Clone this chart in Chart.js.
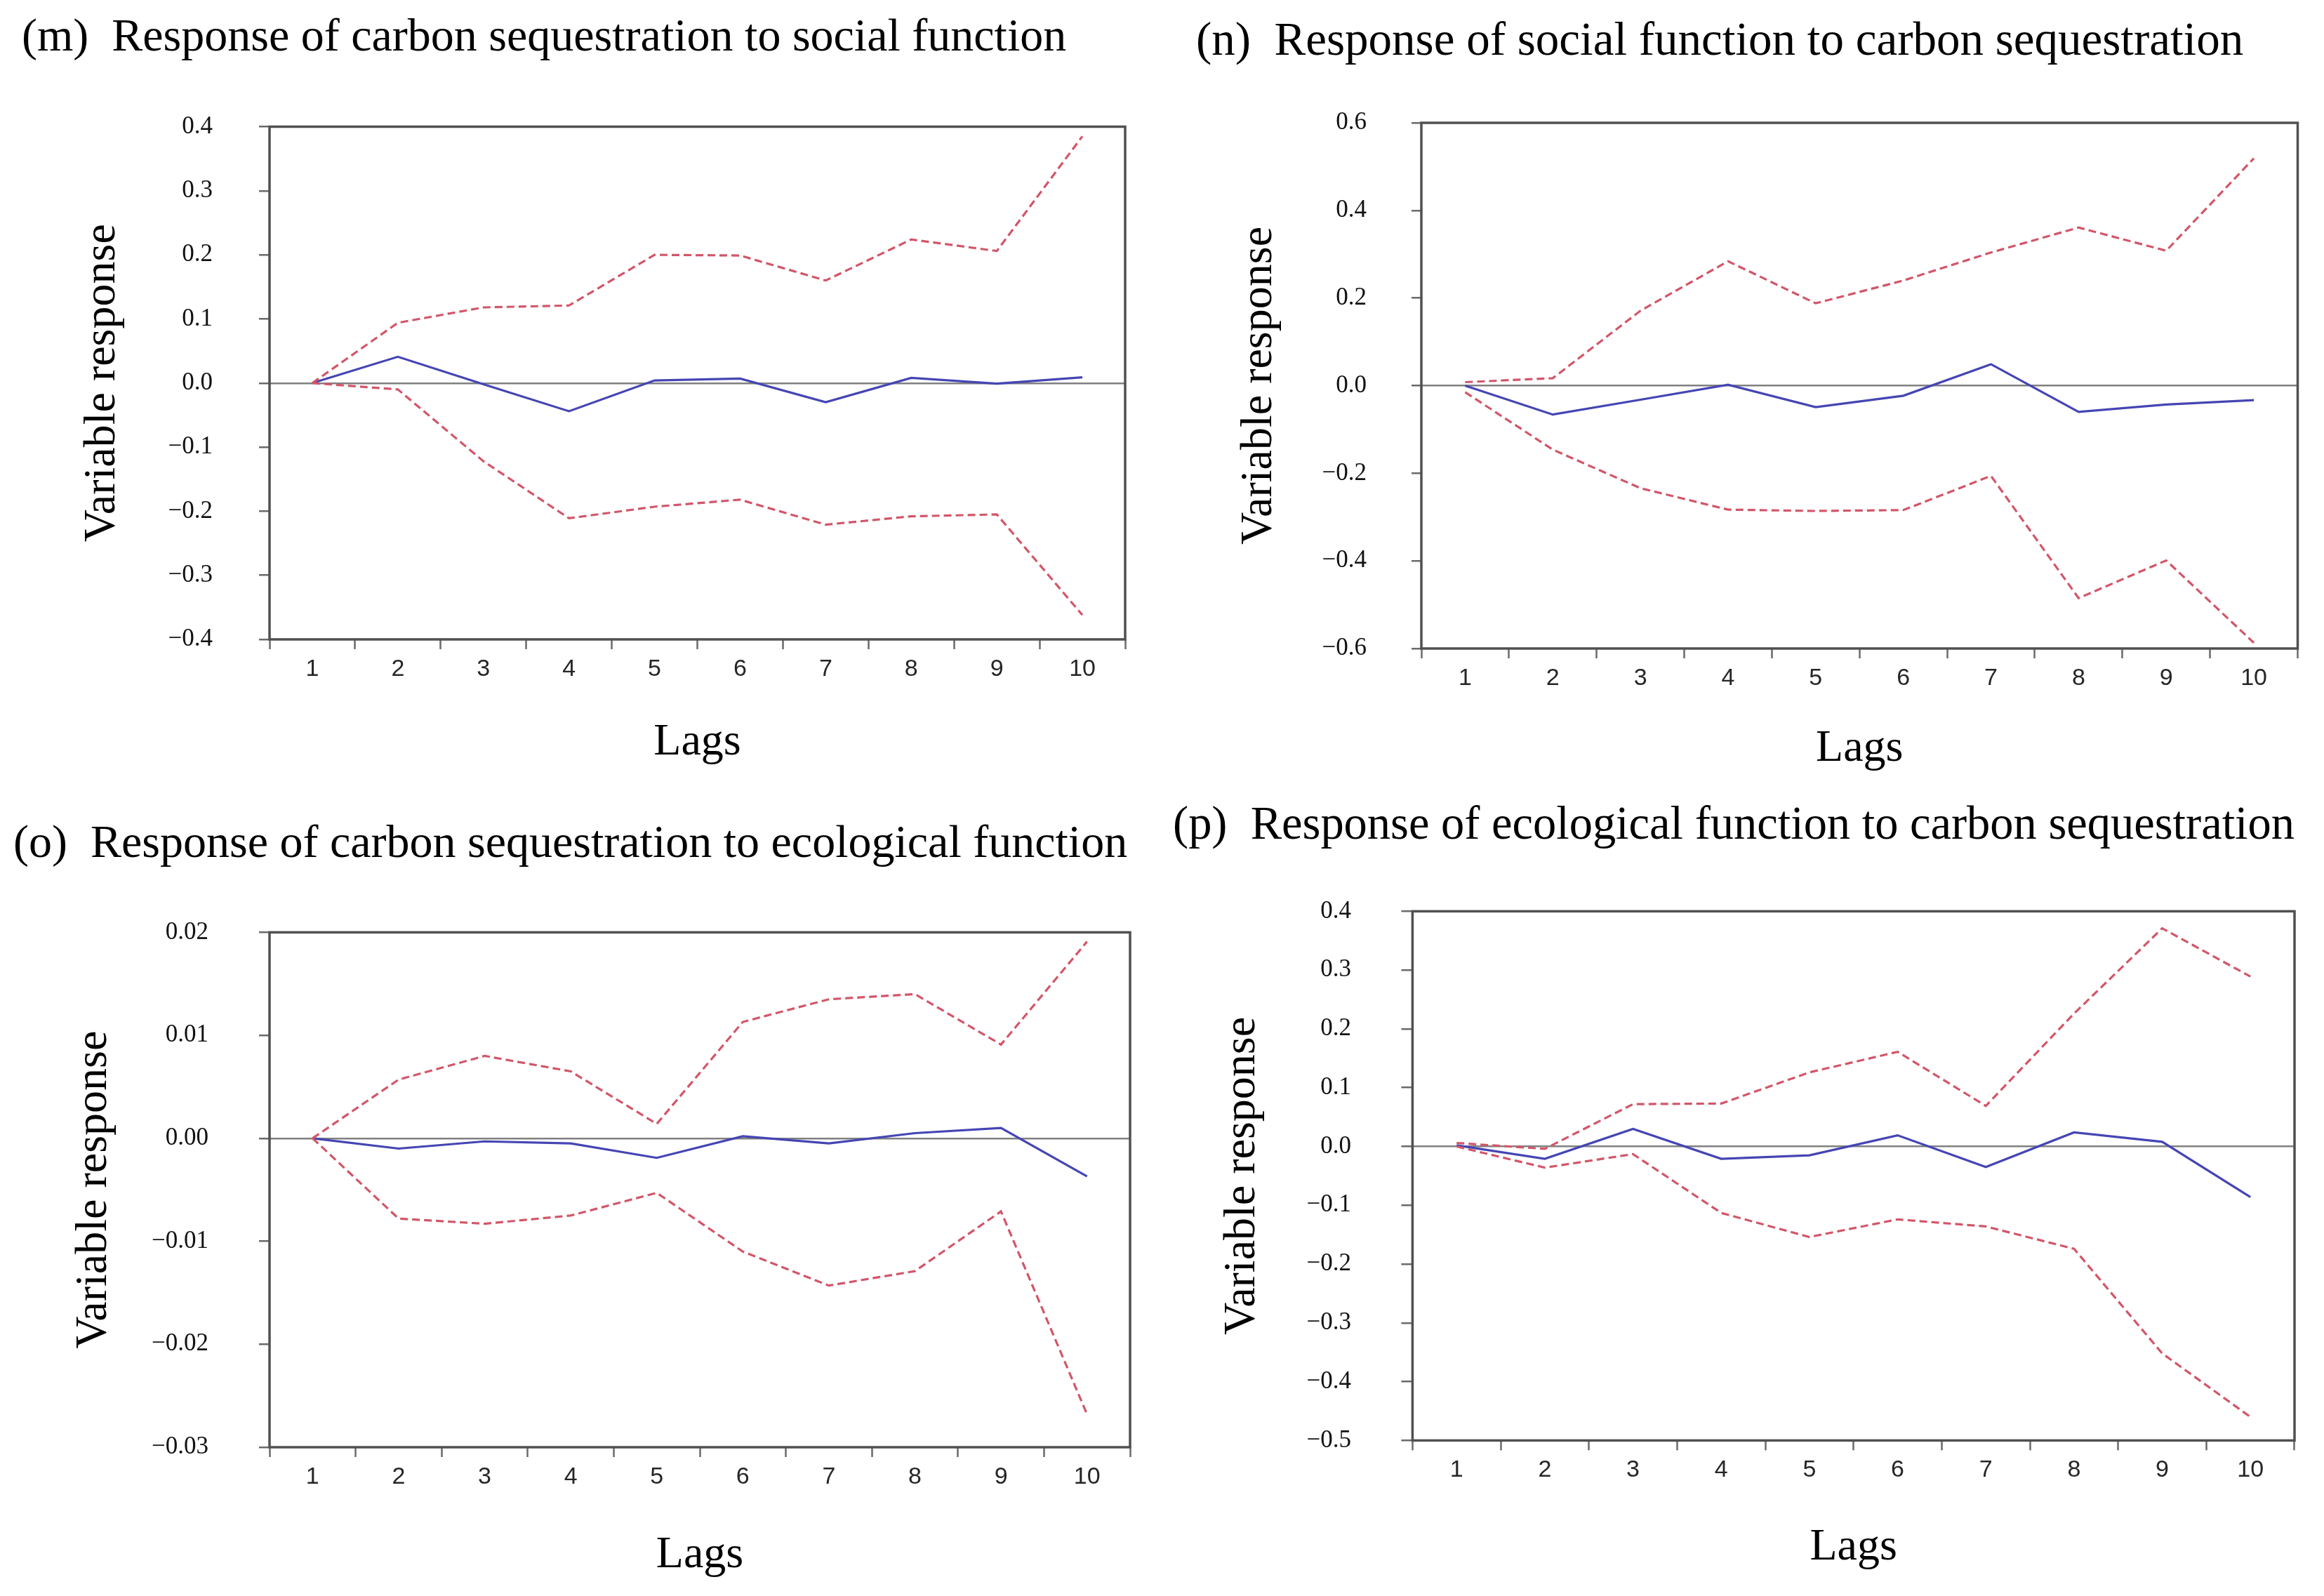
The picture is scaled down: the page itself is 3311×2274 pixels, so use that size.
<!DOCTYPE html>
<html>
<head>
<meta charset="utf-8">
<script src="https://cdn.jsdelivr.net/npm/chart.js@4.4.1/dist/chart.umd.min.js"></script>
<style>
  html, body { margin: 0; padding: 0; background: #ffffff; }
  body { width: 3311px; height: 2274px; position: relative; overflow: hidden; }
  canvas { position: absolute; }
</style>
</head>
<body>
<canvas id="cm"></canvas>
<canvas id="cn"></canvas>
<canvas id="co"></canvas>
<canvas id="cp"></canvas>
<script>
// ---------- data ----------
const lags = ['1', '2', '3', '4', '5', '6', '7', '8', '9', '10'];

// (m) carbon sequestration -> social function
const mResponse = [0, 0.041, -0.002, -0.044, 0.004, 0.007, -0.030, 0.008, -0.001, 0.009];
const mUpper    = [0, 0.094, 0.118, 0.121, 0.200, 0.199, 0.160, 0.224, 0.206, 0.385];
const mLower    = [0, -0.010, -0.122, -0.211, -0.193, -0.182, -0.221, -0.208, -0.205, -0.362];
const mTicks    = [-0.4, -0.3, -0.2, -0.1, 0, 0.1, 0.2, 0.3, 0.4];

// (n) social function -> carbon sequestration
const nResponse = [0, -0.066, -0.032, 0.002, -0.049, -0.023, 0.049, -0.060, -0.043, -0.033];
const nUpper    = [0.008, 0.017, 0.171, 0.284, 0.188, 0.240, 0.304, 0.361, 0.308, 0.519];
const nLower    = [-0.015, -0.146, -0.234, -0.283, -0.286, -0.284, -0.206, -0.485, -0.399, -0.587];
const nTicks    = [-0.6, -0.4, -0.2, 0, 0.2, 0.4, 0.6];

// (o) carbon sequestration -> ecological function
const oResponse = [0, -0.0010, -0.0003, -0.0005, -0.0019, 0.0002, -0.0005, 0.0005, 0.0010, -0.0037];
const oUpper    = [0, 0.0057, 0.0080, 0.0065, 0.0014, 0.0113, 0.0135, 0.0140, 0.0091, 0.0191];
const oLower    = [0, -0.0078, -0.0083, -0.0075, -0.0053, -0.0110, -0.0143, -0.0129, -0.0071, -0.0268];
const oTicks    = [-0.03, -0.02, -0.01, 0, 0.01, 0.02];

// (p) ecological function -> carbon sequestration
const pResponse = [0.002, -0.021, 0.030, -0.021, -0.015, 0.019, -0.035, 0.024, 0.008, -0.086];
const pUpper    = [0.006, -0.004, 0.072, 0.073, 0.126, 0.161, 0.069, 0.226, 0.371, 0.289];
const pLower    = [0.000, -0.036, -0.013, -0.113, -0.154, -0.124, -0.136, -0.174, -0.352, -0.460];
const pTicks    = [-0.5, -0.4, -0.3, -0.2, -0.1, 0, 0.1, 0.2, 0.3, 0.4];

const titles = {
  m: '(m)  Response of carbon sequestration to social function',
  n: '(n)  Response of social function to carbon sequestration',
  o: '(o)  Response of carbon sequestration to ecological function',
  p: '(p)  Response of ecological function to carbon sequestration'
};
const yTitle = 'Variable response';
const xTitle = 'Lags';

// ---------- styles / layout ----------
const SERIF = "'Liberation Serif', 'Times New Roman', Times, serif";
const SANS = "'Liberation Sans', Arial, Helvetica, sans-serif";
const BLUE = '#4545b4';
const RED = '#d25669';
const FRAME = '#505050';
const TICK = '#6a6a6a';
const ZERO = '#808080';

const layouts = {
  m: { canvas: [31, 0, 1640, 1110], area: [384, 180.5, 1603, 911], titleBase: 77, titleSize: 66,
       yLabelRight: 303, yTick: 15, yTitleMid: 146, xTitleMid: 1058 },
  n: { canvas: [1704, 0, 3300, 1110], area: [2025, 175, 3273.5, 924], titleBase: 83, titleSize: 67,
       yLabelRight: 1947, yTick: 14, yTitleMid: 1794, xTitleMid: 1067 },
  o: { canvas: [19, 1120, 1645, 2270], area: [384, 1328.4, 1610, 2062], titleBase: 1226, titleSize: 66,
       yLabelRight: 297, yTick: 15, yTitleMid: 134, xTitleMid: 2216 },
  p: { canvas: [1671, 1120, 3305, 2270], area: [2012.4, 1298.4, 3269, 2052.4], titleBase: 1200, titleSize: 67,
       yLabelRight: 1925, yTick: 16, yTitleMid: 1770, xTitleMid: 2205 }
};

function fmt(v, d) {
  const s = Math.abs(v).toFixed(d);
  return (v < -1e-12 ? '\u2212' : '') + s;
}

const framePlugin = {
  id: 'frame',
  afterDraw(chart) {
    const { ctx, chartArea: a } = chart;
    ctx.save();
    ctx.strokeStyle = FRAME;
    ctx.lineWidth = 3.5;
    ctx.strokeRect(a.left, a.top, a.right - a.left, a.bottom - a.top);
    ctx.restore();
  }
};

function makeChart(key, response, upper, lower, yTicks, decimals) {
  const L = layouts[key];
  const [cl, ct, cr, cb] = L.canvas;
  const [al, at, ar, ab] = L.area;
  const canvas = document.getElementById('c' + key);
  canvas.style.left = cl + 'px';
  canvas.style.top = ct + 'px';
  canvas.width = cr - cl;
  canvas.height = cb - ct;

  const TS = L.titleSize, tLH = TS * 1.2;
  const titleMid = L.titleBase - 0.3375 * TS;
  const tPadTop = titleMid - ct - tLH / 2;
  const tPadBottom = at - ct - tPadTop - tLH;
  const AT = 64, aLH = AT * 1.2;
  const yW = al - cl;
  const xH = cb - ab;

  const lineBase = { pointRadius: 0, pointHoverRadius: 0, tension: 0, fill: false, borderWidth: 3.2 };

  return new Chart(canvas, {
    type: 'line',
    data: {
      labels: lags,
      datasets: [
        Object.assign({ label: 'Upper', data: upper, borderColor: RED, borderDash: [11, 6] }, lineBase),
        Object.assign({ label: 'Lower', data: lower, borderColor: RED, borderDash: [11, 6] }, lineBase),
        Object.assign({ label: 'Response', data: response, borderColor: BLUE }, lineBase)
      ]
    },
    options: {
      responsive: false,
      animation: false,
      devicePixelRatio: 1,
      events: [],
      layout: { padding: { left: 0, top: 0, right: cr - ar, bottom: 0 } },
      plugins: {
        legend: { display: false },
        tooltip: { enabled: false },
        title: {
          display: true, text: titles[key], align: 'start', color: '#000',
          font: { family: SERIF, size: TS, weight: 'normal', lineHeight: 1.2 },
          padding: { top: tPadTop, bottom: tPadBottom }
        }
      },
      scales: {
        x: {
          type: 'category',
          offset: true,
          border: { display: false },
          grid: { offset: true, drawOnChartArea: false, drawTicks: true, tickLength: 14,
                  tickColor: TICK, tickWidth: 2.5 },
          ticks: { font: { family: SANS, size: 34, weight: 'normal', lineHeight: 1.2 }, color: '#262626', padding: 8,
                   maxRotation: 0, autoSkip: false },
          title: { display: true, text: xTitle, color: '#000',
                   font: { family: SERIF, size: AT, weight: 'normal', lineHeight: 1.2 },
                   padding: { top: 0, bottom: cb - L.xTitleMid - aLH / 2 } },
          afterFit: s => { s.height = xH; }
        },
        y: {
          type: 'linear',
          min: yTicks[0],
          max: yTicks[yTicks.length - 1],
          afterBuildTicks: ax => { ax.ticks = yTicks.map(v => ({ value: v })); },
          border: { display: false },
          grid: {
            drawOnChartArea: true, drawTicks: true, tickLength: L.yTick,
            color: c => (c.tick && c.tick.value === 0) ? ZERO : 'rgba(0,0,0,0)',
            lineWidth: 2.5, tickColor: TICK, tickWidth: 2.5
          },
          ticks: { font: { family: SERIF, size: 35, weight: 'normal', lineHeight: 1.2 }, color: '#111',
                   padding: al - L.yTick - L.yLabelRight,
                   callback: v => fmt(v, decimals) },
          title: { display: true, text: yTitle, color: '#000',
                   font: { family: SERIF, size: AT, weight: 'normal', lineHeight: 1.2 },
                   padding: { top: L.yTitleMid - cl - aLH / 2, bottom: 0 } },
          afterFit: s => { s.width = yW; }
        }
      }
    },
    plugins: [framePlugin]
  });
}

makeChart('m', mResponse, mUpper, mLower, mTicks, 1);
makeChart('n', nResponse, nUpper, nLower, nTicks, 1);
makeChart('o', oResponse, oUpper, oLower, oTicks, 2);
makeChart('p', pResponse, pUpper, pLower, pTicks, 1);
</script>
</body>
</html>
